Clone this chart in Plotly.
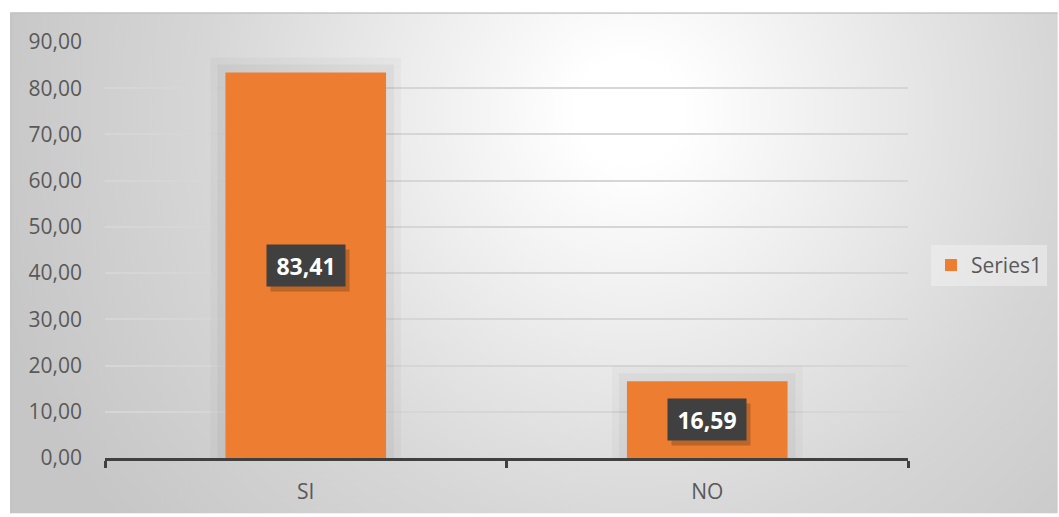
import base64

import plotly.graph_objects as go

categories = ["SI", "NO"]
values = [83.41, 16.59]
series_name = "Series1"
y_ticks = [0, 10, 20, 30, 40, 50, 60, 70, 80, 90]

W, H = 1059, 517
L, R, T, B = 105, 1059 - 909, 42, 517 - 461
FONT = "Open Sans"
TXT = "#595959"
ORANGE = "#ED7D31"


def fmt(v):
    return f"{v:.2f}".replace(".", ",")


# radial grey background of the chart box (decoration only), border on top/left
bg_svg = """<svg xmlns='http://www.w3.org/2000/svg' width='1049' height='505' viewBox='0 0 1049 505' preserveAspectRatio='none'>
<defs><radialGradient id='g' gradientUnits='userSpaceOnUse' cx='620' cy='100' r='660'>
<stop offset='0' stop-color='#ffffff'/><stop offset='0.08' stop-color='#ffffff'/>
<stop offset='0.65' stop-color='#d6d6d6'/><stop offset='1' stop-color='#c6c6c6'/></radialGradient></defs>
<rect x='0' y='0' width='1049' height='505' fill='url(#g)'/>
<path d='M0.75,505 V0.75 H1049' fill='none' stroke='#c2c2c2' stroke-width='1.5'/></svg>"""
bg_src = "data:image/svg+xml;base64," + base64.b64encode(bg_svg.encode()).decode()

pw, ph = W - L - R, H - T - B


def px_x(p):
    return (p - L) / pw


def px_y(p):
    return (H - B - p) / ph


fig = go.Figure()

# soft shadow around the bars
for lw, alpha in [(30, 0.025), (16, 0.035)]:
    fig.add_trace(go.Bar(
        x=categories, y=values, width=0.4, showlegend=False, hoverinfo="skip",
        marker=dict(color="rgba(0,0,0,0)", line=dict(color=f"rgba(0,0,0,{alpha})", width=lw)),
    ))
fig.add_trace(go.Bar(
    x=categories, y=values, name=series_name, width=0.4,
    marker=dict(color=ORANGE, line=dict(width=0)),
))

for c, v in zip(categories, values):
    fig.add_annotation(
        x=c, y=v / 2, text="&nbsp;", showarrow=False,
        xshift=4, yshift=-5, width=70, height=33, borderpad=4,
        bgcolor="rgba(0,0,0,0.2)", font=dict(family=FONT, size=23),
    )
    fig.add_annotation(
        x=c, y=v / 2, text="<b>" + fmt(v) + "</b>", showarrow=False,
        width=70, height=33, borderpad=4,
        bgcolor="#404040", font=dict(family=FONT, size=23, color="white"),
    )

fig.add_layout_image(
    source=bg_src, xref="paper", yref="paper",
    x=px_x(10), y=px_y(12), sizex=px_x(1059) - px_x(10), sizey=px_y(12) - px_y(517),
    xanchor="left", yanchor="top", sizing="stretch", layer="below",
)

fig.update_layout(
    width=W, height=H,
    margin=dict(l=L, r=R, t=T, b=B),
    barmode="overlay",
    separators=",.",
    paper_bgcolor="white",
    plot_bgcolor="rgba(0,0,0,0)",
    font=dict(family=FONT, size=21, color=TXT),
    legend=dict(
        x=px_x(932), y=px_y(267), xanchor="left", yanchor="middle",
        bgcolor="rgba(240,240,240,0.55)", font=dict(size=21, color=TXT),
    ),
    showlegend=True,
)
fig.update_xaxes(
    type="category", range=[-0.5, 1.5], tickson="boundaries",
    showline=True, linecolor="#404040", linewidth=3,
    ticks="outside", ticklen=7, tickwidth=3, tickcolor="#404040",
    showgrid=False, ticklabelstandoff=13, fixedrange=True,
)
fig.update_yaxes(
    range=[0, 90], tickvals=y_ticks, tickformat=".2f",
    showgrid=True, gridcolor="#d6d6d6", gridwidth=1.5,
    zeroline=False, showline=False, ticks="", ticklabelstandoff=22, fixedrange=True,
)

page_fix = (
    "document.body.style.margin='0';"
    "document.body.style.overflow='hidden';"
    "document.documentElement.style.overflow='hidden';"
)
fig.write_html("out.html", config={"displayModeBar": False}, post_script=page_fix)
